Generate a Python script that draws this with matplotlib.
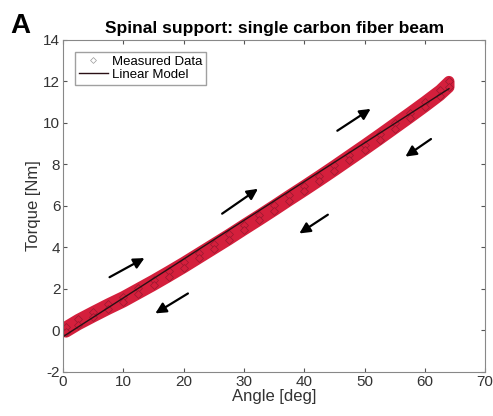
import numpy as np
import matplotlib.pyplot as plt

plt.rcParams['font.family'] = ['Liberation Sans', 'DejaVu Sans']
plt.rcParams['axes.unicode_minus'] = False

angle_up = [0.5, 2.5, 5, 7.5, 10, 12.5, 15, 17.5, 20, 22.5, 25, 27.5, 30, 32.5,
            35, 37.5, 40, 42.5, 45, 47.5, 50, 52.5, 55, 57.5, 60, 62.5, 64]
torque_up = [0.18, 0.53, 0.91, 1.28, 1.63, 2.03, 2.43, 2.85, 3.28, 3.73, 4.18, 4.63, 5.1, 5.56,
             6.03, 6.51, 6.98, 7.46, 7.95, 8.45, 8.95, 9.46, 9.98, 10.5, 11.03, 11.58, 12.0]
angle_down = [64, 62.5, 60, 57.5, 55, 52.5, 50, 47.5, 45, 42.5, 40, 37.5, 35, 32.5,
              30, 27.5, 25, 22.5, 20, 17.5, 15, 12.5, 10, 7.5, 5, 2.5, 0.5]
torque_down = [11.72, 11.32, 10.77, 10.24, 9.72, 9.2, 8.69, 8.19, 7.69, 7.2, 6.72, 6.25, 5.77, 5.3,
               4.84, 4.37, 3.92, 3.47, 3.02, 2.59, 2.17, 1.77, 1.37, 1.02, 0.65, 0.27, -0.08]

# linear model endpoints
model_angle = [0, 64]
model_torque = [-0.3, 11.65]

# arrows (tail angle, tail torque, head angle, head torque)
arrows = [
    (7.3, 2.5, 13.9, 3.55),
    (21.1, 1.85, 14.9, 0.75),
    (26.0, 5.55, 32.7, 6.9),
    (44.3, 5.65, 38.8, 4.6),
    (45.1, 9.55, 51.4, 10.75),
    (61.4, 9.3, 56.4, 8.3),
]

fig = plt.figure(figsize=(4.93, 4.16), dpi=100)
ax = fig.add_axes([0.128, 0.106, 0.856, 0.798])

ax.plot(angle_up + angle_down, torque_up + torque_down, color='#d41f3c', lw=8,
        marker='D', ms=4, mfc='#d41f3c', mec='#9a1830', mew=0.5,
        label='Measured Data', solid_capstyle='round')
ax.plot(model_angle, model_torque, color='#2a1015', lw=1.0, label='Linear Model')

for x0, y0, x1, y1 in arrows:
    ax.annotate('', xy=(x1, y1), xytext=(x0, y0),
                arrowprops=dict(arrowstyle='-|>', color='black', lw=1.6,
                                mutation_scale=16))

ax.set_xlim(0, 70)
ax.set_ylim(-2, 14)
ax.set_xticks(range(0, 71, 10))
ax.set_yticks(range(-2, 15, 2))
ax.tick_params(direction='in', length=3, labelsize=11, colors='#555555',
               top=True, right=True, labelcolor='#333333', pad=2)
for s in ax.spines.values():
    s.set_color('#888888')
    s.set_linewidth(0.8)

ax.set_xlabel('Angle [deg]', fontsize=12, color='#333333', labelpad=0)
ax.set_ylabel('Torque [Nm]', fontsize=12, color='#333333', labelpad=2)
ax.set_title('Spinal support: single carbon fiber beam', fontsize=12.5,
             fontweight='bold', pad=5)
fig.text(0.02, 0.92, 'A', fontsize=20, fontweight='bold', va='baseline')

leg = ax.legend(loc='upper left', fontsize=9.5, frameon=True, fancybox=False,
                edgecolor='#888888', handlelength=2.2, borderpad=0.3,
                labelspacing=0.05, handletextpad=0.3, borderaxespad=0.9)
leg.legend_handles[0].set_linewidth(0)
leg.legend_handles[0].set_markersize(3)
leg.legend_handles[0].set_markerfacecolor('white')
leg.legend_handles[0].set_markeredgecolor('#999999')

fig.savefig('out.png', dpi=100)
